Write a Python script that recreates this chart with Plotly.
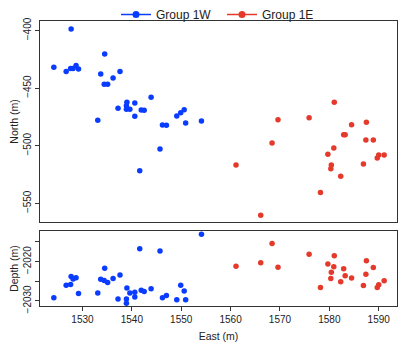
import plotly.graph_objects as go

# Group 1W
w_east = [1527.7, 1534.5, 1524.2, 1526.7, 1527.6, 1528.1, 1528.7, 1529.2, 1533.7, 1537.6,
          1536.2, 1534.4, 1535.1, 1543.9, 1539.0, 1540.6, 1538.9, 1537.2, 1538.9, 1539.6,
          1541.9, 1542.5, 1540.6, 1550.6, 1549.9, 1549.1, 1533.1, 1546.2, 1547.0, 1550.9,
          1554.1, 1545.7, 1541.6]
w_north = [-398.7, -420.4, -432.0, -435.7, -433.1, -433.1, -430.5, -433.4, -437.8, -435.7,
           -441.2, -446.7, -446.7, -458.0, -462.3, -462.9, -465.3, -467.5, -468.4, -468.4,
           -469.0, -469.3, -474.5, -468.7, -471.3, -474.2, -478.0, -482.0, -482.3, -480.3,
           -478.6, -502.9, -521.7]
w_depth = [-2023.8, -2021.7, -2029.2, -2026.0, -2025.8, -2024.4, -2024.1, -2028.1, -2024.5, -2023.4,
           -2024.3, -2024.8, -2025.3, -2026.9, -2026.7, -2027.8, -2029.5, -2029.5, -2030.6, -2028.0,
           -2027.3, -2027.6, -2029.0, -2027.5, -2026.0, -2029.7, -2028.0, -2029.2, -2028.6, -2029.7,
           -2013.0, -2017.3, -2016.7]

# Group 1E
e_east = [1581.0, 1569.6, 1575.9, 1584.5, 1587.5, 1582.9, 1583.2, 1568.4, 1587.4, 1588.9,
          1580.9, 1579.7, 1561.1, 1580.4, 1580.3, 1586.9, 1590.0, 1589.7, 1591.1, 1582.3,
          1578.2, 1566.1]
e_north = [-462.3, -477.4, -475.7, -481.8, -479.7, -490.5, -490.5, -497.7, -495.0, -495.0,
           -502.0, -507.5, -516.8, -516.8, -520.0, -515.9, -508.0, -510.7, -508.0, -526.6,
           -540.5, -560.4]
e_depth = [-2018.5, -2021.4, -2018.1, -2024.2, -2019.8, -2021.8, -2023.6, -2015.4, -2023.2, -2021.5,
           -2021.3, -2020.6, -2021.2, -2022.7, -2024.3, -2026.1, -2025.9, -2026.6, -2024.9, -2025.1,
           -2026.6, -2020.3]

group_names = ["Group 1W", "Group 1E"]
blue = "#0a3cff"
red = "#e53a2b"

x_ticks = [1530, 1540, 1550, 1560, 1570, 1580, 1590]
north_ticks = [-400, -450, -500, -550]
depth_ticks = [-2015, -2020, -2025, -2030]
depth_ticklabels = ["", "\u22122020", "", "\u22122030"]

W, H = 406, 350
fig = go.Figure()
mk = dict(size=5.5, line=dict(width=0))
fig.add_trace(go.Scatter(x=w_east, y=w_north, mode="markers", marker=dict(color=blue, **mk),
                         showlegend=False, xaxis="x", yaxis="y"))
fig.add_trace(go.Scatter(x=e_east, y=e_north, mode="markers", marker=dict(color=red, **mk),
                         showlegend=False, xaxis="x", yaxis="y"))
fig.add_trace(go.Scatter(x=w_east, y=w_depth, mode="markers", marker=dict(color=blue, **mk),
                         showlegend=False, xaxis="x2", yaxis="y2"))
fig.add_trace(go.Scatter(x=e_east, y=e_depth, mode="markers", marker=dict(color=red, **mk),
                         showlegend=False, xaxis="x2", yaxis="y2"))
# legend entries
fig.add_trace(go.Scatter(x=[None], y=[None], mode="lines+markers", name=group_names[0],
                         line=dict(color=blue, width=1.5), marker=dict(color=blue, size=7),
                         xaxis="x", yaxis="y"))
fig.add_trace(go.Scatter(x=[None], y=[None], mode="lines+markers", name=group_names[1],
                         line=dict(color=red, width=1.5), marker=dict(color=red, size=7),
                         xaxis="x", yaxis="y"))

xdom = [40 / W, 397 / W]
axcommon = dict(showline=True, linecolor="#333333", linewidth=1, mirror=True, showgrid=False,
                zeroline=False, ticks="outside", ticklen=4, tickcolor="#333333",
                tickfont=dict(size=10, color="#222222"), automargin=False)

fig.update_layout(
    width=W, height=H,
    margin=dict(l=0, r=0, t=0, b=0),
    paper_bgcolor="white", plot_bgcolor="white",
    font=dict(family="Liberation Sans, Arial, sans-serif", size=10, color="#222222"),
    xaxis=dict(domain=xdom, range=[1521.4, 1593.7], anchor="y", showticklabels=False,
               **{**axcommon, "ticks": ""}),
    yaxis=dict(domain=[1 - 222 / H, 1 - 21 / H], range=[-566.2, -391.8], anchor="x",
               tickvals=north_ticks, ticktext=["\u2212" + str(abs(v)) for v in north_ticks],
               tickangle=-90, title=dict(text="North (m)", standoff=1, font=dict(size=10.5)),
               **axcommon),
    xaxis2=dict(domain=xdom, range=[1521.4, 1593.7], anchor="y2", tickvals=x_ticks,
                title=dict(text="East (m)", standoff=8, font=dict(size=10.5)), **axcommon),
    yaxis2=dict(domain=[1 - 306 / H, 1 - 231 / H], range=[-2031.3, -2012.2], anchor="x2",
                tickvals=depth_ticks, ticktext=depth_ticklabels, tickangle=-90,
                title=dict(text="Depth (m)", standoff=1, font=dict(size=10.5)), **axcommon),
    legend=dict(orientation="h", x=116 / W, xanchor="left", y=1.0, yanchor="top",
                font=dict(size=12, color="#222222"), itemwidth=30, tracegroupgap=0,
                entrywidth=61, entrywidthmode="pixels",
                bgcolor="rgba(0,0,0,0)"),
)

fig.write_html("out.html")
